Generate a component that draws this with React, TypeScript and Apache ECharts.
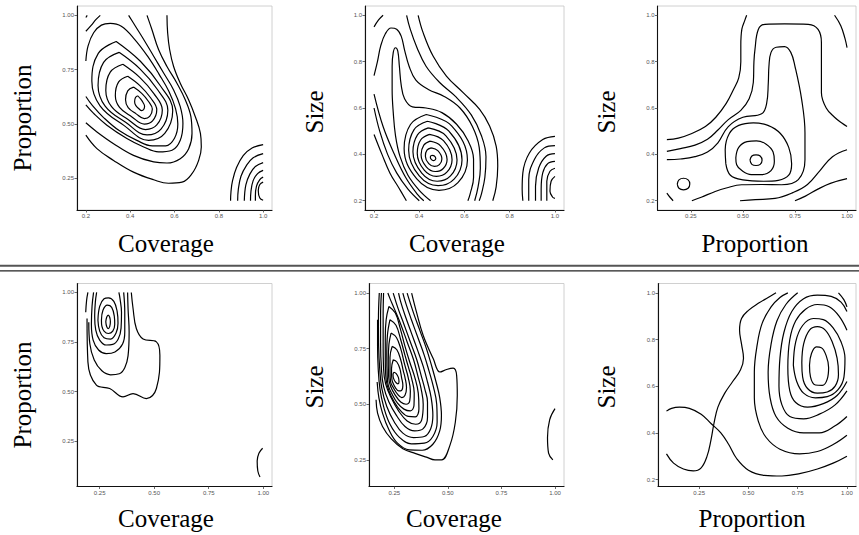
import { useEffect, useRef } from "react";
import * as echarts from "echarts";

// ---------- tick labels ----------
const P1_X_TICKS = ["0.2", "0.4", "0.6", "0.8", "1.0"];
const P1_Y_TICKS = ["0.25", "0.50", "0.75", "1.00"];
const P2_X_TICKS = ["0.2", "0.4", "0.6", "0.8", "1.0"];
const P2_Y_TICKS = ["0.2", "0.4", "0.6", "0.8", "1.0"];
const P3_X_TICKS = ["0.25", "0.50", "0.75", "1.00"];
const P3_Y_TICKS = ["0.2", "0.4", "0.6", "0.8", "1.0"];
const P4_X_TICKS = ["0.25", "0.50", "0.75", "1.00"];
const P4_Y_TICKS = ["0.25", "0.50", "0.75", "1.00"];
const P5_X_TICKS = ["0.25", "0.50", "0.75", "1.00"];
const P5_Y_TICKS = ["0.25", "0.50", "0.75", "1.00"];
const P6_X_TICKS = ["0.25", "0.50", "0.75", "1.00"];
const P6_Y_TICKS = ["0.2", "0.4", "0.6", "0.8", "1.0"];

const X_TITLES = ["Coverage", "Coverage", "Proportion", "Coverage", "Coverage", "Proportion"];
const Y_TITLES = ["Proportion", "Size", "Size", "Proportion", "Size", "Size"];

// ---------- contour lines, [x, y] ----------
const P1_CONTOURS: number[][][] = [
  [[.434,.630],[.447,.616],[.458,.599],[.465,.582],[.461,.567],[.452,.562],[.438,.572],[.425,.586],[.420,.603],[.424,.622],[.434,.630]],
  [[.415,.67],[.452,.641],[.482,.605],[.50,.569],[.488,.535],[.464,.525],[.427,.547],[.391,.576],[.379,.612],[.389,.653],[.415,.67]],
  [[.389,.72],[.445,.676],[.492,.621],[.52,.566],[.501,.515],[.464,.50],[.408,.533],[.352,.577],[.333,.632],[.348,.694],[.389,.72]],
  [[.367,.775],[.443,.715],[.507,.64],[.545,.565],[.52,.496],[.469,.475],[.392,.52],[.316,.58],[.29,.655],[.31,.739],[.367,.775]],
  [[.35,.83],[.444,.754],[.523,.659],[.57,.564],[.539,.477],[.476,.45],[.381,.507],[.287,.583],[.255,.678],[.28,.784],[.35,.83]],
  [[.337,.88],[.446,.789],[.537,.675],[.592,.562],[.556,.457],[.483,.425],[.373,.493],[.264,.584],[.227,.698],[.256,.825],[.337,.88]],
  [[.2,.79],[.21,.86],[.235,.92],[.27,.955],[.31,.963],[.36,.95],[.42,.89],[.48,.81],[.53,.73],[.575,.65],[.605,.57],[.615,.50],[.60,.435],[.56,.40],[.50,.40],[.43,.425],[.35,.47],[.28,.53],[.23,.585],[.2,.627]],
  [[.2,.588],[.235,.549],[.295,.495],[.385,.434],[.461,.395],[.528,.372],[.589,.380],[.626,.426],[.638,.503],[.626,.580],[.596,.657],[.551,.735],[.506,.812],[.461,.889],[.423,.951],[.393,1.0]],
  [[.2,.927],[.225,.955],[.245,.98],[.265,1.0]],
  [[.2,.506],[.250,.464],[.325,.410],[.415,.356],[.506,.326],[.566,.321],[.626,.341],[.664,.387],[.679,.457],[.674,.534],[.649,.611],[.611,.688],[.566,.765],[.528,.843],[.498,.935],[.476,1.0]],
  [[.2,.99],[.206,1.0]],
  [[.2,.449],[.250,.387],[.325,.333],[.415,.279],[.506,.244],[.573,.228],[.634,.233],[.679,.272],[.709,.333],[.721,.395],[.717,.457],[.694,.534],[.664,.611],[.626,.688],[.596,.765],[.578,.843],[.569,.92],[.566,1.0]],
  [[1.0,.406],[.95,.39],[.91,.355],[.88,.30],[.862,.24],[.855,.19],[.853,.148]],
  [[1.0,.364],[.955,.345],[.925,.31],[.90,.26],[.888,.20],[.885,.148]],
  [[1.0,.323],[.965,.305],[.94,.27],[.922,.22],[.915,.148]],
  [[1.0,.287],[.975,.272],[.955,.24],[.945,.19],[.943,.148]],
  [[1.0,.256],[.985,.245],[.97,.215],[.965,.17],[.965,.148]],
  [[1.0,.233],[.985,.222],[.978,.195],[.985,.16],[1.0,.150]],
];

const P2_CONTOURS: number[][][] = [
  [[.457,.396],[.467,.393],[.473,.382],[.469,.375],[.462,.373],[.454,.377],[.449,.386],[.451,.393],[.457,.396]],
  [[.453,.428],[.482,.416],[.500,.380],[.489,.356],[.467,.348],[.442,.360],[.427,.392],[.434,.418],[.453,.428]],
  [[.448,.457],[.494,.437],[.523,.378],[.506,.339],[.471,.326],[.431,.346],[.408,.398],[.420,.440],[.448,.457]],
  [[.445,.486],[.507,.459],[.545,.377],[.522,.323],[.476,.305],[.422,.332],[.391,.405],[.406,.462],[.445,.486]],
  [[.440,.514],[.518,.480],[.567,.376],[.538,.307],[.479,.284],[.411,.319],[.372,.411],[.392,.484],[.440,.514]],
  [[.436,.543],[.530,.501],[.589,.376],[.554,.293],[.483,.265],[.400,.307],[.353,.418],[.377,.507],[.436,.543]],
  [[.431,.572],[.543,.523],[.613,.376],[.571,.278],[.487,.245],[.389,.294],[.333,.425],[.361,.529],[.431,.572]],
  [[.45,.20],[.40,.245],[.35,.31],[.315,.39],[.295,.48],[.285,.58],[.28,.68],[.28,.78],[.285,.84],[.295,.86],[.305,.845],[.312,.78],[.32,.70],[.335,.64],[.37,.605],[.43,.60],[.50,.58],[.565,.53],[.615,.46],[.64,.38],[.64,.30],[.625,.23],[.615,.20]],
  [[.2,.74],[.215,.80],[.23,.87],[.25,.92],[.275,.945],[.30,.94],[.32,.91],[.335,.85],[.355,.78],[.385,.72],[.44,.68],[.51,.65],[.58,.60],[.635,.52],[.665,.43],[.67,.34],[.66,.26],[.645,.20]],
  [[.2,.66],[.24,.52],[.29,.40],[.34,.30],[.39,.23],[.42,.20]],
  [[.344,1.0],[.36,.94],[.39,.86],[.43,.78],[.49,.71],[.56,.65],[.63,.57],[.675,.48],[.695,.39],[.69,.30],[.675,.23],[.665,.20]],
  [[.2,.60],[.225,.50],[.26,.40],[.30,.32],[.35,.25],[.40,.20]],
  [[.2,.95],[.22,.98],[.24,1.0]],
  [[.395,1.0],[.417,.925],[.461,.824],[.52,.738],[.594,.666],[.667,.594],[.711,.522],[.74,.436],[.747,.35],[.74,.26],[.725,.20]],
  [[.2,.486],[.235,.40],[.27,.32],[.31,.255],[.343,.20]],
  [[1.0,.478],[.946,.464],[.887,.406],[.858,.32],[.855,.25],[.858,.20]],
  [[1.0,.438],[.953,.428],[.909,.378],[.884,.291],[.884,.20]],
  [[1.0,.403],[.961,.392],[.928,.341],[.914,.262],[.914,.20]],
  [[1.0,.370],[.968,.360],[.946,.32],[.939,.25],[.939,.20]],
  [[1.0,.340],[.978,.327],[.964,.284],[.964,.20]],
  [[1.0,.305],[.983,.284],[.978,.241],[.99,.215],[1.0,.21]],
];

const P3_CONTOURS: number[][][] = [
  [[.534,.375],[.543,.393],[.563,.398],[.583,.393],[.592,.375],[.583,.357],[.563,.352],[.543,.357],[.534,.375]],
  [[.466,.385],[.48,.43],[.52,.455],[.565,.458],[.61,.445],[.645,.41],[.651,.37],[.635,.33],[.59,.313],[.54,.313],[.495,.33],[.47,.355],[.466,.385]],
  [[.418,.36],[.415,.42],[.435,.49],[.48,.525],[.55,.536],[.62,.525],[.68,.49],[.72,.43],[.734,.36],[.72,.31],[.67,.288],[.60,.284],[.50,.29],[.44,.31],[.418,.36]],
  [[.135,.377],[.20,.38],[.27,.39],[.33,.41],[.38,.45],[.43,.52],[.50,.56],[.59,.575],[.614,.62],[.622,.709],[.625,.78],[.635,.84],[.66,.862],[.70,.865],[.73,.84],[.75,.78],[.782,.637],[.798,.493],[.798,.377],[.766,.291],[.686,.269],[.59,.27],[.494,.269],[.42,.255],[.367,.240],[.30,.215],[.255,.20]],
  [[.135,.413],[.20,.425],[.27,.44],[.33,.465],[.38,.505],[.43,.55],[.49,.59],[.53,.64],[.55,.71],[.553,.80],[.558,.853],[.574,.939],[.606,.961],[.70,.963],[.814,.961],[.861,.939],[.877,.882],[.877,.78],[.877,.666],[.90,.60],[.94,.56],[.975,.535],[1.0,.52]],
  [[.135,.464],[.19,.47],[.255,.49],[.32,.52],[.37,.56],[.42,.62],[.455,.68],[.48,.73],[.49,.80],[.49,.87],[.495,.94],[.51,.98],[.518,1.0]],
  [[.486,.20],[.56,.205],[.654,.21],[.74,.235],[.81,.27],[.87,.33],[.93,.39],[1.0,.42]],
  [[.75,.20],[.80,.22],[.86,.25],[.92,.275],[1.0,.295]],
  [[.185,.272],[.193,.29],[.215,.297],[.237,.29],[.245,.272],[.237,.254],[.215,.247],[.193,.254],[.185,.272]],
  [[.135,.233],[.15,.215],[.165,.20]],
  [[.94,1.0],[.97,.955],[.99,.90],[1.0,.86]],
];

const P4_CONTOURS: number[][][] = [
  [[.278,.852],[.282,.875],[.289,.886],[.296,.875],[.299,.852],[.296,.828],[.289,.818],[.282,.828],[.278,.852]],
  [[.258,.86],[.265,.91],[.285,.936],[.305,.925],[.317,.88],[.319,.84],[.31,.805],[.29,.793],[.27,.805],[.26,.83],[.258,.86]],
  [[.242,.86],[.25,.93],[.27,.968],[.29,.973],[.315,.955],[.33,.905],[.334,.845],[.325,.795],[.30,.765],[.27,.772],[.25,.805],[.242,.86]],
  [[.236,1.0],[.23,.95],[.227,.88],[.232,.81],[.25,.76],[.28,.735],[.31,.738],[.335,.765],[.348,.82],[.35,.90],[.343,.97],[.338,1.0]],
  [[.222,1.0],[.215,.93],[.212,.84],[.22,.76],[.245,.71],[.28,.692],[.32,.70],[.355,.74],[.365,.80],[.365,.90],[.36,1.0]],
  [[.20,.85],[.205,.74],[.225,.66],[.26,.605],[.30,.585],[.34,.59],[.365,.62],[.38,.68],[.385,.80],[.38,.92],[.378,1.0]],
  [[.192,.869],[.196,.65],[.235,.533],[.296,.516],[.357,.474],[.403,.490],[.464,.465],[.510,.516],[.526,.684],[.510,.751],[.449,.765],[.418,.818],[.403,.919],[.395,1.0]],
  [[.186,.90],[.19,.96],[.196,1.0]],
  [[.997,.215],[.98,.19],[.972,.15],[.975,.10],[.985,.07]],
];

const P5_CONTOURS: number[][][] = [
  [[.249,.644],[.259,.638],[.269,.621],[.272,.601],[.267,.592],[.257,.598],[.247,.615],[.244,.634],[.249,.644]],
  [[.245,.70],[.262,.69],[.276,.66],[.284,.62],[.29,.585],[.284,.562],[.27,.56],[.255,.575],[.242,.60],[.238,.62],[.237,.66],[.245,.70]],
  [[.24,.76],[.262,.745],[.28,.70],[.292,.65],[.30,.62],[.307,.575],[.30,.54],[.285,.53],[.265,.545],[.245,.575],[.233,.60],[.23,.65],[.23,.71],[.24,.76]],
  [[.235,.82],[.26,.80],[.28,.75],[.298,.68],[.315,.62],[.325,.56],[.322,.515],[.305,.50],[.28,.51],[.255,.54],[.233,.58],[.224,.62],[.222,.70],[.225,.77],[.235,.82]],
  [[.23,.88],[.258,.855],[.28,.79],[.30,.72],[.318,.66],[.33,.62],[.343,.55],[.342,.495],[.325,.47],[.295,.478],[.265,.505],[.24,.545],[.222,.585],[.217,.63],[.215,.72],[.218,.81],[.23,.88]],
  [[.225,.94],[.255,.91],[.278,.84],[.30,.76],[.322,.69],[.346,.62],[.362,.55],[.365,.48],[.348,.443],[.315,.445],[.28,.47],[.25,.51],[.225,.56],[.212,.61],[.208,.70],[.208,.80],[.212,.88],[.225,.94]],
  [[.20,1.0],[.198,.90],[.198,.78],[.20,.66],[.21,.59],[.235,.53],[.27,.47],[.31,.425],[.35,.41],[.378,.43],[.385,.50],[.375,.57],[.362,.62],[.34,.70],[.31,.78],[.28,.86],[.25,.93],[.23,.975],[.22,1.0]],
  [[.19,1.0],[.186,.90],[.186,.78],[.19,.66],[.20,.58],[.225,.51],[.26,.45],[.30,.40],[.345,.38],[.385,.39],[.405,.44],[.405,.51],[.392,.57],[.378,.62],[.355,.70],[.325,.78],[.295,.86],[.268,.93],[.245,1.0]],
  [[.18,1.0],[.176,.88],[.177,.76],[.182,.66],[.192,.57],[.215,.49],[.25,.42],[.29,.37],[.34,.35],[.39,.355],[.42,.39],[.43,.45],[.422,.53],[.405,.60],[.385,.67],[.36,.74],[.33,.82],[.30,.90],[.28,.96],[.27,1.0]],
  [[.172,.88],[.172,.76],[.175,.66],[.183,.57],[.20,.49],[.23,.41],[.275,.35],[.33,.322],[.39,.325],[.43,.355],[.45,.42],[.448,.50],[.432,.58],[.412,.65],[.39,.72],[.36,.80],[.33,.88],[.305,.95],[.29,1.0]],
  [[.17,.60],[.178,.53],[.195,.46],[.225,.385],[.265,.325],[.32,.295],[.38,.293],[.43,.32],[.462,.38],[.47,.45],[.462,.53],[.445,.60],[.425,.67],[.40,.75],[.37,.83],[.34,.91],[.31,1.0]],
  [[.331,1.0],[.354,.913],[.385,.809],[.432,.704],[.463,.645],[.494,.656],[.525,.662],[.541,.629],[.544,.54],[.535,.42],[.51,.316],[.471,.25],[.44,.25],[.40,.262],[.35,.278],[.29,.30],[.235,.345],[.195,.40],[.172,.46],[.165,.52]],
  [[1.0,.48],[.975,.43],[.965,.35],[.97,.28],[.99,.25]],
];

const P6_CONTOURS: number[][][] = [
  [[.81,.69],[.82,.74],[.845,.768],[.87,.765],[.895,.73],[.907,.68],[.90,.63],[.875,.603],[.84,.605],[.815,.64],[.81,.69]],
  [[.771,.70],[.78,.78],[.81,.84],[.85,.855],[.89,.84],[.925,.79],[.95,.72],[.957,.65],[.94,.60],[.90,.575],[.85,.57],[.80,.59],[.775,.64],[.771,.70]],
  [[.728,.69],[.74,.79],[.775,.86],[.83,.89],[.88,.885],[.93,.85],[.97,.79],[.99,.72],[.985,.64],[.955,.585],[.90,.555],[.84,.55],[.78,.57],[.745,.62],[.728,.69]],
  [[1.0,.62],[.95,.56],[.88,.525],[.80,.51],[.74,.53],[.71,.58],[.70,.68],[.71,.80],[.74,.88],[.79,.93],[.85,.95],[.91,.94],[.96,.90],[1.0,.84]],
  [[1.0,.58],[.94,.52],[.86,.48],[.78,.46],[.71,.47],[.67,.52],[.655,.60],[.66,.72],[.68,.83],[.72,.92],[.78,.975],[.85,.99],[.92,.985],[.97,.96],[1.0,.92]],
  [[1.0,.47],[.94,.43],[.86,.40],[.78,.40],[.70,.42],[.64,.47],[.61,.55],[.60,.66],[.615,.78],[.645,.88],[.69,.95],[.75,1.0]],
  [[1.0,.39],[.93,.35],[.85,.32],[.76,.31],[.66,.33],[.59,.38],[.55,.45],[.53,.55],[.53,.66],[.545,.78],[.57,.87],[.615,.94],[.66,.98],[.70,1.0]],
  [[1.0,.30],[.93,.27],[.85,.245],[.76,.225],[.67,.215],[.58,.218],[.50,.24],[.44,.29],[.40,.35],[.36,.40],[.31,.44],[.26,.48],[.20,.505],[.15,.51],[.11,.505],[.084,.493]],
  [[.084,.31],[.12,.27],[.17,.245],[.22,.237],[.26,.25],[.29,.30],[.31,.37],[.325,.44],[.345,.51],[.38,.57],[.42,.62],[.46,.67],[.475,.72],[.465,.78],[.455,.84],[.465,.89],[.50,.925],[.55,.955],[.60,.98],[.64,1.0]],
  [[.957,1.0],[.985,.97],[1.0,.94]],
];

// ---------- layout (pixels) ----------
const PANELS = [
  { left: 77, top: 6, width: 195, height: 204, xMin: 0.16, xMax: 1.04, yMin: 0.105, yMax: 1.043, xt: P1_X_TICKS, yt: P1_Y_TICKS, c: P1_CONTOURS, yTitle: [22, 118], xTitle: [166, 243] },
  { left: 365, top: 6, width: 199, height: 204, xMin: 0.16, xMax: 1.04, yMin: 0.16, yMax: 1.04, xt: P2_X_TICKS, yt: P2_Y_TICKS, c: P2_CONTOURS, yTitle: [314, 112], xTitle: [457, 243] },
  { left: 657.5, top: 6, width: 198.5, height: 204, xMin: 0.09, xMax: 1.043, yMin: 0.16, yMax: 1.04, xt: P3_X_TICKS, yt: P3_Y_TICKS, c: P3_CONTOURS, yTitle: [606, 112], xTitle: [755, 243] },
  { left: 77, top: 283.5, width: 195, height: 203, xMin: 0.146, xMax: 1.04, yMin: 0.022, yMax: 1.045, xt: P4_X_TICKS, yt: P4_Y_TICKS, c: P4_CONTOURS, yTitle: [22, 395], xTitle: [166, 518] },
  { left: 369, top: 283.5, width: 195, height: 203, xMin: 0.132, xMax: 1.042, yMin: 0.13, yMax: 1.043, xt: P5_X_TICKS, yt: P5_Y_TICKS, c: P5_CONTOURS, yTitle: [314, 387], xTitle: [454, 518] },
  { left: 658, top: 283.5, width: 198, height: 203, xMin: 0.041, xMax: 1.046, yMin: 0.17, yMax: 1.04, xt: P6_X_TICKS, yt: P6_Y_TICKS, c: P6_CONTOURS, yTitle: [606, 387], xTitle: [752, 518] },
];

function fmt(labels: string[]) {
  const vals = labels.map((s) => parseFloat(s));
  return (v: number) => {
    const i = vals.findIndex((t) => Math.abs(t - v) < 1e-9);
    return i >= 0 ? labels[i] : "";
  };
}

function axisCommon(labels: string[]) {
  const vals = labels.map((s) => parseFloat(s));
  return {
    type: "value",
    axisLine: { show: true, onZero: false, lineStyle: { color: "#111", width: 1.1 } },
    axisTick: { show: true, length: 2.5, lineStyle: { color: "#444", width: 0.8 }, customValues: vals },
    axisLabel: {
      show: true,
      customValues: vals,
      formatter: fmt(labels),
      fontSize: 6,
      color: "#555",
      margin: 3,
      fontFamily: "Liberation Sans, Arial, sans-serif",
    },
    splitLine: { show: false },
  };
}

export default function App() {
  const ref = useRef<HTMLDivElement>(null);
  useEffect(() => {
    if (!ref.current) return;
    const chart = echarts.init(ref.current, undefined, { renderer: "svg" });
    const grid = PANELS.map((p) => ({
      left: p.left,
      top: p.top,
      width: p.width,
      height: p.height,
      show: true,
      borderColor: "#c4c4c4",
      borderWidth: 0.8,
      backgroundColor: "transparent",
      containLabel: false,
    }));
    const xAxis = PANELS.map((p, i) => ({ ...axisCommon(p.xt), gridIndex: i, min: p.xMin, max: p.xMax }));
    const yAxis = PANELS.map((p, i) => ({ ...axisCommon(p.yt), gridIndex: i, min: p.yMin, max: p.yMax }));
    const series: any[] = [];
    PANELS.forEach((p, i) => {
      p.c.forEach((line) => {
        series.push({
          type: "line",
          xAxisIndex: i,
          yAxisIndex: i,
          data: line,
          showSymbol: false,
          symbol: "none",
          smooth: 0.4,
          silent: true,
          clip: true,
          lineStyle: { color: "#000", width: 1.2 },
        });
      });
    });
    const titleFont = "Liberation Serif, Times New Roman, serif";
    const graphic: any[] = [];
    PANELS.forEach((p, i) => {
      graphic.push({
        type: "text",
        x: p.xTitle[0],
        y: p.xTitle[1],
        style: { text: X_TITLES[i], font: `25px ${titleFont}`, fill: "#000", align: "center", verticalAlign: "middle" },
      });
      graphic.push({
        type: "text",
        x: p.yTitle[0],
        y: p.yTitle[1],
        rotation: Math.PI / 2,
        style: { text: Y_TITLES[i], font: `25px ${titleFont}`, fill: "#000", align: "center", verticalAlign: "middle" },
      });
    });
    graphic.push({ type: "line", shape: { x1: 0, y1: 265.8, x2: 859, y2: 265.8 }, style: { stroke: "#555", lineWidth: 2 } });
    graphic.push({ type: "line", shape: { x1: 0, y1: 270.8, x2: 859, y2: 270.8 }, style: { stroke: "#222", lineWidth: 1.3 } });

    chart.setOption({
      animation: false,
      backgroundColor: "#fff",
      grid,
      xAxis,
      yAxis,
      series,
      graphic,
    });
    return () => chart.dispose();
  }, []);
  return <div ref={ref} style={{ position: "fixed", left: 0, top: 0, width: 859, height: 535 }} />;
}
